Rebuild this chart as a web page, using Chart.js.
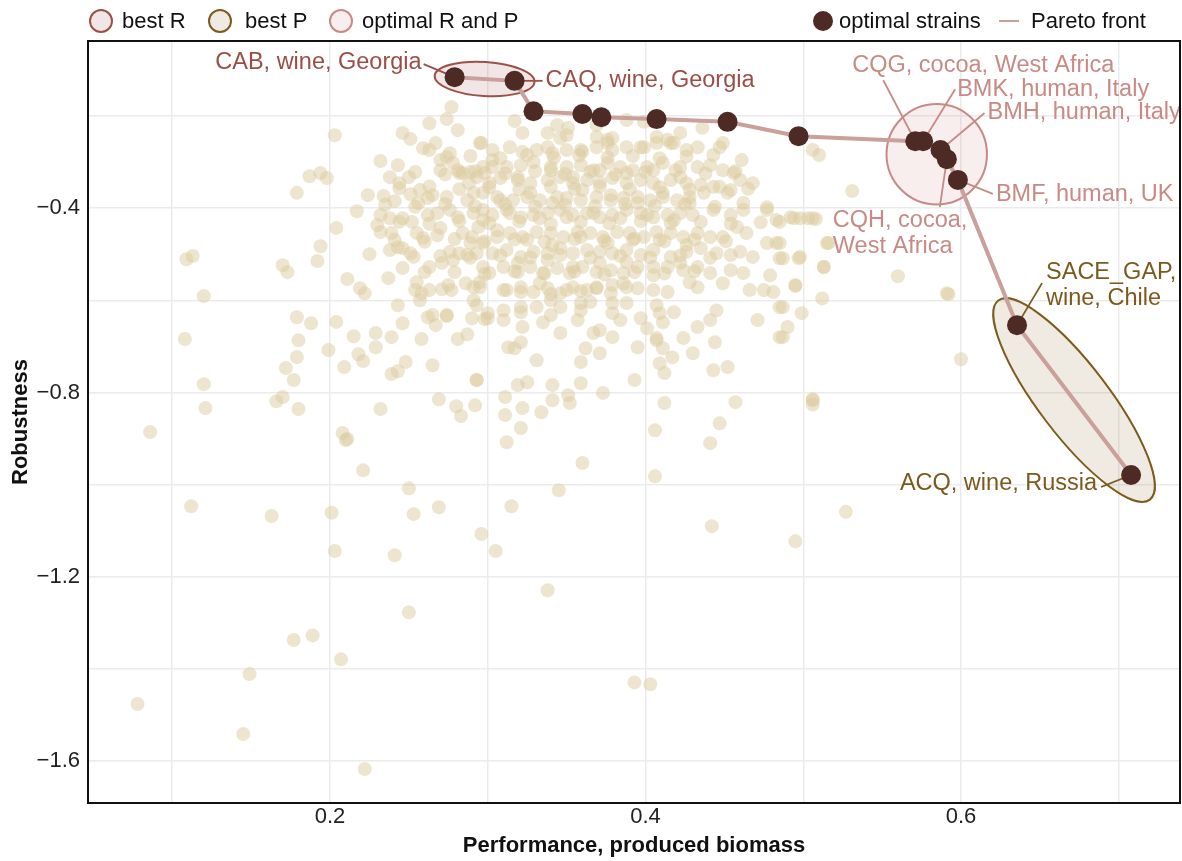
<!DOCTYPE html>
<html lang="en">
<head>
<meta charset="UTF-8">
<title>Pareto front of strains</title>
<script src="https://cdn.jsdelivr.net/npm/chart.js"></script>
<style>
  html, body { margin: 0; padding: 0; background: #fff; overflow: hidden; }
  #wrap { width: 1182px; height: 861px; }
</style>
</head>
<body>
<div id="wrap"><canvas id="chart" width="1182" height="861"></canvas></div>
<script>
// all strains, [performance, robustness]
const outerStrains = [
  [0.078,-1.476],[0.086,-0.886],[0.109,-0.511],[0.113,-0.504],[0.120,-0.591],[0.108,-0.684],[0.120,-0.782],[0.121,-0.834],
  [0.203,-0.242],[0.187,-0.331],[0.194,-0.324],[0.198,-0.335],[0.179,-0.367],[0.217,-0.407],[0.204,-0.443],[0.194,-0.483],
  [0.192,-0.515],[0.170,-0.524],[0.173,-0.539],[0.211,-0.554],[0.219,-0.574],[0.222,-0.585],
  [0.179,-0.637],[0.188,-0.650],[0.204,-0.647],[0.180,-0.687],[0.199,-0.708],[0.179,-0.723],[0.172,-0.747],[0.177,-0.773],
  [0.166,-0.819],[0.170,-0.810],[0.180,-0.836],[0.208,-0.888],[0.211,-0.901],
  [0.215,-0.678],[0.229,-0.671],[0.229,-0.702],[0.239,-0.680],[0.218,-0.717],[0.221,-0.732],[0.209,-0.745],[0.239,-0.760],
  [0.243,-0.754],[0.248,-0.734],[0.232,-0.836],[0.265,-0.741],[0.258,-0.684],[0.246,-0.650],[0.243,-0.611],[0.237,-0.552],[0.225,-0.500],
  [0.269,-0.815],[0.280,-0.830],[0.283,-0.851],[0.292,-0.828],[0.293,-0.773],[0.281,-0.684],[0.287,-0.674],[0.274,-0.634],
  [0.262,-0.637],[0.267,-0.654],[0.265,-0.632],[0.290,-0.639],[0.298,-0.641],[0.291,-0.600],[0.293,-0.611],
  [0.257,-0.600],[0.258,-0.585],[0.263,-0.578],[0.255,-0.561],[0.254,-0.578],[0.271,-0.576],[0.277,-0.578],[0.275,-0.567],
  [0.286,-0.563],[0.295,-0.561],[0.246,-0.530],[0.260,-0.539],[0.263,-0.528],[0.271,-0.519],
  [0.232,-0.298],[0.243,-0.307],[0.246,-0.237],[0.251,-0.250],[0.263,-0.216],[0.274,-0.207],[0.277,-0.181],[0.281,-0.231],
  [0.296,-0.259],[0.259,-0.270],[0.267,-0.259],[0.263,-0.274],
  [0.270,-0.296],[0.274,-0.289],[0.278,-0.302],[0.281,-0.318],[0.270,-0.318],[0.238,-0.333],[0.244,-0.346],[0.250,-0.333],
  [0.224,-0.372],[0.234,-0.374],[0.241,-0.385],[0.251,-0.370],[0.257,-0.361],[0.256,-0.389],[0.262,-0.378],[0.265,-0.372],
  [0.232,-0.415],[0.230,-0.437],[0.238,-0.422],[0.232,-0.452],[0.239,-0.454],[0.246,-0.422],[0.252,-0.430],[0.255,-0.454],
  [0.259,-0.465],[0.268,-0.459],[0.270,-0.443],[0.262,-0.415],[0.268,-0.411],[0.276,-0.404],
  [0.238,-0.491],[0.243,-0.485],[0.251,-0.498],[0.253,-0.506],[0.246,-0.487],[0.276,-0.495],[0.282,-0.498],[0.287,-0.502],
  [0.293,-0.498],[0.297,-0.476],[0.284,-0.454],[0.290,-0.463],[0.294,-0.441],[0.291,-0.411],[0.297,-0.404],[0.287,-0.383],
  [0.297,-0.367],[0.288,-0.346],[0.293,-0.333],[0.298,-0.324],[0.284,-0.324]
];

const coreStrains = [
  [0.317,-0.211],[0.322,-0.237],[0.338,-0.237],[0.344,-0.220],[0.351,-0.226],[0.346,-0.248],[0.350,-0.242],[0.369,-0.220],
  [0.369,-0.246],[0.379,-0.248],[0.388,-0.209],[0.399,-0.213],[0.407,-0.246],[0.414,-0.252],[0.422,-0.237],[0.436,-0.226],
  [0.303,-0.274],[0.314,-0.268],[0.322,-0.278],[0.331,-0.274],[0.341,-0.281],[0.350,-0.274],[0.360,-0.278],[0.369,-0.268],
  [0.376,-0.252],[0.379,-0.274],[0.388,-0.268],[0.399,-0.268],[0.407,-0.259],[0.416,-0.259],[0.426,-0.274],[0.433,-0.268],
  [0.447,-0.268],[0.449,-0.259],
  [0.289,-0.322],[0.297,-0.311],[0.303,-0.296],[0.312,-0.311],[0.321,-0.307],[0.329,-0.300],[0.340,-0.311],[0.350,-0.311],
  [0.359,-0.307],[0.367,-0.318],[0.376,-0.302],[0.384,-0.311],[0.392,-0.318],[0.401,-0.311],[0.411,-0.302],[0.422,-0.311],
  [0.433,-0.311],[0.441,-0.307],[0.449,-0.318],[0.456,-0.324],[0.461,-0.296],
  [0.301,-0.346],[0.308,-0.335],[0.319,-0.339],[0.327,-0.346],[0.338,-0.339],[0.346,-0.333],[0.354,-0.346],[0.363,-0.339],
  [0.371,-0.344],[0.379,-0.335],[0.388,-0.346],[0.397,-0.339],[0.405,-0.346],[0.416,-0.339],[0.426,-0.346],[0.435,-0.350],
  [0.443,-0.354],[0.454,-0.361],[0.460,-0.339],[0.468,-0.346],
  [0.306,-0.376],[0.316,-0.383],[0.325,-0.376],[0.333,-0.383],[0.341,-0.389],[0.350,-0.378],[0.359,-0.383],[0.369,-0.376],
  [0.378,-0.383],[0.386,-0.378],[0.395,-0.389],[0.403,-0.383],[0.411,-0.376],[0.420,-0.383],[0.428,-0.389],[0.437,-0.367],
  [0.452,-0.367],[0.462,-0.389],[0.477,-0.398],
  [0.303,-0.415],[0.312,-0.404],[0.321,-0.420],[0.329,-0.415],[0.338,-0.411],[0.346,-0.404],[0.354,-0.415],[0.363,-0.411],
  [0.371,-0.420],[0.379,-0.415],[0.388,-0.404],[0.397,-0.411],[0.405,-0.420],[0.414,-0.415],[0.422,-0.411],[0.430,-0.415],
  [0.443,-0.404],[0.454,-0.415],[0.462,-0.404],[0.477,-0.404],[0.483,-0.426],[0.492,-0.420],[0.498,-0.422],[0.506,-0.422],
  [0.306,-0.448],[0.314,-0.454],[0.322,-0.463],[0.331,-0.452],[0.340,-0.454],[0.348,-0.463],[0.357,-0.452],[0.365,-0.454],
  [0.373,-0.463],[0.382,-0.452],[0.390,-0.454],[0.399,-0.463],[0.407,-0.452],[0.416,-0.454],[0.424,-0.463],[0.433,-0.454],
  [0.441,-0.463],[0.449,-0.463],[0.458,-0.441],[0.464,-0.454],[0.477,-0.476],[0.483,-0.476],[0.515,-0.476],
  [0.303,-0.498],[0.312,-0.491],[0.321,-0.506],[0.329,-0.495],[0.338,-0.498],[0.346,-0.487],[0.354,-0.498],[0.363,-0.491],
  [0.371,-0.495],[0.379,-0.498],[0.388,-0.491],[0.397,-0.502],[0.405,-0.491],[0.416,-0.506],[0.426,-0.495],[0.435,-0.487],
  [0.445,-0.498],[0.454,-0.502],[0.460,-0.495],[0.468,-0.506],[0.485,-0.509],[0.498,-0.506],
  [0.301,-0.541],[0.310,-0.528],[0.319,-0.539],[0.327,-0.528],[0.335,-0.541],[0.344,-0.530],[0.352,-0.541],[0.360,-0.528],
  [0.369,-0.539],[0.378,-0.535],[0.386,-0.541],[0.395,-0.528],[0.405,-0.546],[0.414,-0.528],[0.424,-0.535],[0.433,-0.528],
  [0.441,-0.541],[0.454,-0.535],[0.462,-0.541],[0.479,-0.546],[0.513,-0.528],
  [0.295,-0.572],[0.310,-0.578],[0.321,-0.572],[0.329,-0.582],[0.338,-0.574],[0.346,-0.585],[0.354,-0.572],[0.363,-0.578],
  [0.369,-0.574],[0.379,-0.567],[0.388,-0.572],[0.395,-0.574],[0.414,-0.582],[0.428,-0.561],[0.433,-0.572],[0.449,-0.563],
  [0.466,-0.578],[0.475,-0.578],[0.481,-0.582],[0.495,-0.567],[0.512,-0.596],
  [0.300,-0.628],[0.310,-0.622],[0.321,-0.615],[0.331,-0.615],[0.340,-0.600],[0.346,-0.615],[0.359,-0.606],[0.365,-0.604],
  [0.379,-0.606],[0.388,-0.606],[0.407,-0.611],[0.409,-0.628],[0.445,-0.622],[0.485,-0.615],[0.499,-0.628],
  [0.310,-0.643],[0.322,-0.658],[0.335,-0.648],[0.346,-0.671],[0.357,-0.643],[0.367,-0.671],[0.371,-0.665],[0.379,-0.680],
  [0.384,-0.643],[0.401,-0.661],[0.407,-0.682],[0.411,-0.648],[0.424,-0.682],[0.433,-0.658],[0.441,-0.643],[0.444,-0.691],
  [0.471,-0.643],[0.485,-0.680],[0.490,-0.658],
  [0.313,-0.702],[0.317,-0.704],[0.321,-0.691],[0.331,-0.730],[0.359,-0.734],[0.362,-0.704],[0.371,-0.715],[0.395,-0.702],
  [0.407,-0.687],[0.409,-0.737],[0.411,-0.704],[0.417,-0.724],[0.430,-0.715],[0.443,-0.752],[0.452,-0.745],
  [0.293,-0.773],[0.319,-0.784],[0.325,-0.778],[0.341,-0.784],[0.359,-0.780],[0.373,-0.801],[0.393,-0.773],[0.412,-0.758],
  [0.311,-0.810],[0.341,-0.817],[0.351,-0.806],[0.352,-0.823],
  [0.311,-0.849],[0.322,-0.834],[0.334,-0.843],[0.412,-0.823],[0.457,-0.821],[0.506,-0.817],[0.447,-0.867],[0.406,-0.882],
  [0.321,-0.877],[0.312,-0.908],[0.441,-0.910]
];

// second pass over the densest part of the cloud
const denseStrains = [
  [0.276,-0.281],[0.295,-0.259],[0.338,-0.268],[0.359,-0.274],[0.376,-0.259],[0.397,-0.268],[0.418,-0.259],
  [0.282,-0.324],[0.303,-0.311],[0.319,-0.333],[0.340,-0.318],[0.354,-0.333],[0.371,-0.318],[0.388,-0.324],[0.405,-0.318],[0.422,-0.333],
  [0.274,-0.376],[0.291,-0.367],[0.308,-0.383],[0.327,-0.367],[0.344,-0.376],[0.360,-0.361],[0.378,-0.372],[0.395,-0.376],[0.411,-0.367],[0.428,-0.376],
  [0.281,-0.420],[0.297,-0.426],[0.314,-0.411],[0.333,-0.422],[0.350,-0.420],[0.367,-0.411],[0.384,-0.422],[0.401,-0.415],[0.418,-0.426],
  [0.289,-0.476],[0.306,-0.463],[0.325,-0.469],[0.341,-0.480],[0.359,-0.463],[0.376,-0.476],[0.392,-0.469],[0.409,-0.469],[0.426,-0.480],
  [0.278,-0.513],[0.297,-0.528],[0.319,-0.519],[0.338,-0.513],[0.354,-0.528],[0.371,-0.519],[0.388,-0.517],[0.405,-0.528],[0.422,-0.519],
  [0.291,-0.572],[0.312,-0.578],[0.333,-0.563],[0.350,-0.578],[0.369,-0.572],[0.386,-0.563],[0.405,-0.578],
  [0.274,-0.632],[0.300,-0.639],[0.321,-0.626],[0.340,-0.632],[0.359,-0.622],[0.379,-0.628],[0.397,-0.639],[0.418,-0.626]
];

// third pass, filling the gaps of the solid core
const fillStrains = [
  [0.289,-0.287],[0.308,-0.292],[0.325,-0.285],[0.342,-0.291],[0.358,-0.286],[0.376,-0.290],[0.392,-0.287],[0.409,-0.292],[0.426,-0.288],[0.443,-0.285],
  [0.254,-0.322],[0.273,-0.327],[0.292,-0.320],[0.311,-0.325],[0.330,-0.320],[0.349,-0.326],[0.365,-0.321],[0.381,-0.327],[0.400,-0.322],[0.419,-0.318],[0.438,-0.325],[0.457,-0.320],
  [0.244,-0.357],[0.263,-0.353],[0.282,-0.359],[0.301,-0.355],[0.320,-0.360],[0.340,-0.354],[0.355,-0.358],[0.371,-0.353],[0.390,-0.359],[0.409,-0.355],[0.428,-0.360],[0.447,-0.354],[0.465,-0.358],
  [0.235,-0.393],[0.254,-0.397],[0.273,-0.391],[0.292,-0.396],[0.311,-0.392],[0.330,-0.397],[0.349,-0.393],[0.368,-0.396],[0.387,-0.391],[0.406,-0.395],[0.425,-0.392],[0.444,-0.397],
  [0.244,-0.430],[0.263,-0.434],[0.282,-0.428],[0.301,-0.433],[0.320,-0.429],[0.340,-0.435],[0.359,-0.430],[0.377,-0.433],[0.397,-0.428],[0.416,-0.433],[0.435,-0.430],[0.454,-0.434],[0.473,-0.431],
  [0.241,-0.469],[0.260,-0.473],[0.279,-0.467],[0.298,-0.472],[0.317,-0.468],[0.336,-0.473],[0.355,-0.467],[0.374,-0.471],[0.393,-0.466],[0.412,-0.472],[0.431,-0.468],[0.451,-0.472],
  [0.270,-0.504],[0.289,-0.508],[0.308,-0.503],[0.327,-0.507],[0.346,-0.502],[0.365,-0.508],[0.384,-0.504],[0.403,-0.507],[0.422,-0.503],[0.441,-0.508],
  [0.279,-0.539],[0.298,-0.543],[0.317,-0.537],[0.336,-0.542],[0.355,-0.538],[0.374,-0.544],[0.393,-0.539],[0.412,-0.542],[0.431,-0.537],
  [0.321,-0.582],[0.340,-0.586],[0.359,-0.580],[0.378,-0.585]
];

const lowerStrains = [
  [0.210,-0.903],[0.221,-0.969],[0.360,-0.953],[0.250,-1.008],[0.345,-1.012],[0.112,-1.047],[0.163,-1.068],[0.201,-1.061],
  [0.253,-1.064],[0.269,-1.049],[0.315,-1.047],[0.296,-1.107],[0.305,-1.144],[0.203,-1.144],[0.241,-1.153],[0.338,-1.229],
  [0.250,-1.277],[0.177,-1.337],[0.189,-1.327],[0.207,-1.379],[0.149,-1.411],[0.145,-1.541],[0.222,-1.617],[0.406,-0.982],
  [0.442,-1.090],[0.495,-1.123],[0.527,-1.059],[0.393,-1.429],[0.403,-1.433]
];

const rightStrains = [
  [0.506,-0.274],[0.510,-0.285],[0.531,-0.363],[0.485,-0.430],[0.494,-0.422],[0.503,-0.422],[0.508,-0.424],[0.516,-0.476],
  [0.485,-0.476],[0.487,-0.509],[0.497,-0.509],[0.513,-0.528],[0.495,-0.569],[0.487,-0.615],[0.487,-0.680],[0.560,-0.548],
  [0.591,-0.585],[0.592,-0.587],[0.600,-0.728],[0.506,-0.815],[0.506,-0.826]
];

// optimal strains along the Pareto front
const paretoX = [0.279, 0.317, 0.329, 0.360, 0.372, 0.407, 0.452, 0.497, 0.571, 0.576, 0.587, 0.591, 0.598, 0.6355, 0.7078];
const paretoY = [-0.116, -0.124, -0.190, -0.196, -0.203, -0.207, -0.213, -0.244, -0.255, -0.255, -0.274, -0.294, -0.339, -0.654, -0.979];
const paretoGroup = ['R', 'R', '', '', '', '', '', '', 'O', 'O', 'O', 'O', 'O', 'P', 'P'];
const paretoNames = [
  'CAB, wine, Georgia', 'CAQ, wine, Georgia', '', '', '', '', '', '',
  'CQG, cocoa, West Africa', 'BMK, human, Italy', 'BMH, human, Italy', 'CQH, cocoa,\nWest Africa',
  'BMF, human, UK', 'SACE_GAP,\nwine, Chile', 'ACQ, wine, Russia'
];

const xTicks = [0.1, 0.2, 0.3, 0.4, 0.5, 0.6, 0.7];
const xTickLabels = [0.2, 0.4, 0.6];
const yTicks = [-1.6, -1.4, -1.2, -1.0, -0.8, -0.6, -0.4, -0.2];
const yTickLabels = [-1.6, -1.2, -0.8, -0.4];

const FONT = '"Liberation Sans", Arial, Helvetica, sans-serif';

const groupStyle = {
  R: { stroke: '#9c5148', fill: 'rgba(156,81,72,0.14)', text: '#9a4e45', pad: 20, minor: 17 },
  P: { stroke: '#7d5b1c', fill: 'rgba(125,91,28,0.12)', text: '#7b5a1e', pad: 31, minor: 35 },
  O: { stroke: '#c78a86', fill: 'rgba(199,138,134,0.15)', text: '#c98a85', pad: 17 }
};

// where each name sits, in px relative to its point; lx/ly = start of the leader line
const labelSpots = {
  0:  { dx: -33, dy: -15, align: 'right', lx: -31, ly: -13 },
  1:  { dx: 31, dy: 0, align: 'left', lx: 28, ly: 0 },
  8:  { dx: -63, dy: -76, align: 'left', lx: -32, ly: -61 },
  9:  { dx: 34, dy: -52, align: 'left', lx: 32, ly: -52 },
  10: { dx: 47, dy: -37, align: 'left', lx: 44, ly: -37 },
  11: { dx: -114, dy: 61, align: 'left', lx: -7, ly: 48 },
  12: { dx: 38, dy: 15, align: 'left', lx: 35, ly: 14 },
  13: { dx: 29, dy: -53, align: 'left', lx: 25, ly: -42 },
  14: { dx: -34, dy: 9, align: 'right', lx: -30, ly: 12 }
};

const toXY = p => ({ x: p[0], y: p[1] });
const allStrains = [].concat(outerStrains, coreStrains, denseStrains, fillStrains, lowerStrains, rightStrains).map(toXY);
const paretoPts = paretoX.map((x, i) => ({ x: x, y: paretoY[i] }));

function groupPixels(chart, g) {
  const xs = chart.scales.x, ys = chart.scales.y;
  const out = [];
  paretoGroup.forEach((k, i) => {
    if (k === g) out.push({ x: xs.getPixelForValue(paretoX[i]), y: ys.getPixelForValue(paretoY[i]) });
  });
  return out;
}

function pointPx(chart, i) {
  return { x: chart.scales.x.getPixelForValue(paretoX[i]), y: chart.scales.y.getPixelForValue(paretoY[i]) };
}

const decor = {
  id: 'decor',
  beforeDatasetsDraw(chart) {
    const ctx = chart.ctx;
    ctx.save();
    // ellipses around best R and best P
    ['R', 'P'].forEach(g => {
      const st = groupStyle[g];
      const p = groupPixels(chart, g);
      const a = p[0], b = p[p.length - 1];
      const half = Math.hypot(b.x - a.x, b.y - a.y) / 2 + st.pad;
      ctx.beginPath();
      ctx.ellipse((a.x + b.x) / 2, (a.y + b.y) / 2, half, st.minor, Math.atan2(b.y - a.y, b.x - a.x), 0, Math.PI * 2);
      ctx.fillStyle = st.fill;
      ctx.fill();
      ctx.lineWidth = 2;
      ctx.strokeStyle = st.stroke;
      ctx.stroke();
    });
    // circle around the optimal group
    const o = groupPixels(chart, 'O');
    const cx = o.reduce((s, p) => s + p.x, 0) / o.length;
    const cy = o.reduce((s, p) => s + p.y, 0) / o.length;
    const r = Math.max(...o.map(p => Math.hypot(p.x - cx, p.y - cy))) + groupStyle.O.pad;
    ctx.beginPath();
    ctx.arc(cx, cy, r, 0, Math.PI * 2);
    ctx.fillStyle = groupStyle.O.fill;
    ctx.fill();
    ctx.lineWidth = 2;
    ctx.strokeStyle = groupStyle.O.stroke;
    ctx.stroke();

    // leader lines (points are drawn on top of them)
    Object.keys(labelSpots).forEach(k => {
      const i = +k, s = labelSpots[k];
      const p = pointPx(chart, i);
      ctx.beginPath();
      ctx.moveTo(p.x + s.lx, p.y + s.ly);
      ctx.lineTo(p.x, p.y);
      ctx.lineWidth = 1.8;
      ctx.strokeStyle = groupStyle[paretoGroup[i]].text;
      ctx.stroke();
    });
    ctx.restore();
  },
  afterDatasetsDraw(chart) {
    const ctx = chart.ctx;
    ctx.save();
    ctx.font = '23.5px ' + FONT;
    ctx.textBaseline = 'middle';
    Object.keys(labelSpots).forEach(k => {
      const i = +k, s = labelSpots[k];
      const p = pointPx(chart, i);
      ctx.fillStyle = groupStyle[paretoGroup[i]].text;
      ctx.textAlign = s.align;
      paretoNames[i].split('\n').forEach((line, j) => {
        ctx.fillText(line, p.x + s.dx, p.y + s.dy + j * 26);
      });
    });
    ctx.restore();
  },
  afterDraw(chart) {
    const ctx = chart.ctx;
    const a = chart.chartArea;
    ctx.save();
    // panel frame
    ctx.lineWidth = 2;
    ctx.strokeStyle = '#111';
    ctx.strokeRect(a.left, a.top, a.right - a.left, a.bottom - a.top);

    // legend
    const ly = 21;
    ctx.font = '22px ' + FONT;
    ctx.textBaseline = 'middle';
    ctx.textAlign = 'left';
    const rings = [
      { g: 'R', x: 101, text: 'best R', tx: 122 },
      { g: 'P', x: 220, text: 'best P', tx: 245 },
      { g: 'O', x: 341, text: 'optimal R and P', tx: 362 }
    ];
    rings.forEach(it => {
      const st = groupStyle[it.g];
      ctx.beginPath();
      ctx.arc(it.x, ly, 11, 0, Math.PI * 2);
      ctx.fillStyle = st.fill;
      ctx.fill();
      ctx.lineWidth = 2;
      ctx.strokeStyle = st.stroke;
      ctx.stroke();
      ctx.fillStyle = '#111';
      ctx.fillText(it.text, it.tx, ly + 1);
    });
    ctx.beginPath();
    ctx.arc(823, ly, 10, 0, Math.PI * 2);
    ctx.fillStyle = '#4d2a23';
    ctx.fill();
    ctx.fillStyle = '#111';
    ctx.fillText('optimal strains', 839, ly + 1);
    ctx.beginPath();
    ctx.moveTo(999, ly);
    ctx.lineTo(1019, ly);
    ctx.lineWidth = 2;
    ctx.strokeStyle = '#c9a09a';
    ctx.stroke();
    ctx.fillText('Pareto front', 1031, ly + 1);
    ctx.restore();
  }
};

const nearOne = (list, v) => list.some(t => Math.abs(t - v) < 1e-6);

new Chart(document.getElementById('chart'), {
  type: 'scatter',
  data: {
    datasets: [
      {
        label: 'optimal strains',
        data: paretoPts,
        pointRadius: 10,
        pointHoverRadius: 10,
        backgroundColor: '#4d2a23',
        borderWidth: 0
      },
      {
        label: 'Pareto front',
        data: paretoPts,
        showLine: true,
        borderColor: '#c9a09a',
        borderWidth: 4,
        pointRadius: 0
      },
      {
        label: 'strains',
        data: allStrains,
        pointRadius: 7,
        pointHoverRadius: 7,
        backgroundColor: 'rgba(220,203,160,0.5)',
        borderWidth: 0
      }
    ]
  },
  options: {
    responsive: false,
    animation: false,
    devicePixelRatio: 1,
    layout: { autoPadding: false, padding: { top: 41, right: 2, left: 0, bottom: 0 } },
    plugins: {
      legend: { display: false },
      tooltip: { enabled: false }
    },
    scales: {
      x: {
        type: 'linear',
        min: 0.0466,
        max: 0.7388,
        afterBuildTicks: s => { s.ticks = xTicks.map(v => ({ value: v })); },
        afterFit: s => { s.height = 58; },
        grid: { color: '#ebebeb', lineWidth: 1.5, drawTicks: false },
        border: { display: false },
        ticks: {
          autoSkip: false,
          maxRotation: 0,
          padding: 1,
          color: '#222',
          font: { family: FONT, size: 22 },
          callback: v => nearOne(xTickLabels, v) ? v.toFixed(1) : ''
        },
        title: {
          display: true,
          text: 'Performance, produced biomass',
          color: '#111',
          font: { family: FONT, size: 22, weight: 'bold' },
          padding: { top: 0, bottom: 2 }
        }
      },
      y: {
        type: 'linear',
        min: -1.6906,
        max: -0.0376,
        afterBuildTicks: s => { s.ticks = yTicks.map(v => ({ value: v })); },
        afterFit: s => { s.width = 88; },
        grid: { color: '#ebebeb', lineWidth: 1.5, drawTicks: false },
        border: { display: false },
        ticks: {
          autoSkip: false,
          padding: 8,
          color: '#222',
          font: { family: FONT, size: 22 },
          callback: v => nearOne(yTickLabels, v) ? '\u2212' + Math.abs(v).toFixed(1) : ''
        },
        title: {
          display: true,
          text: 'Robustness',
          color: '#111',
          font: { family: FONT, size: 22, weight: 'bold' },
          padding: { top: 8, bottom: 0 }
        }
      }
    }
  },
  plugins: [decor]
});
</script>
</body>
</html>
